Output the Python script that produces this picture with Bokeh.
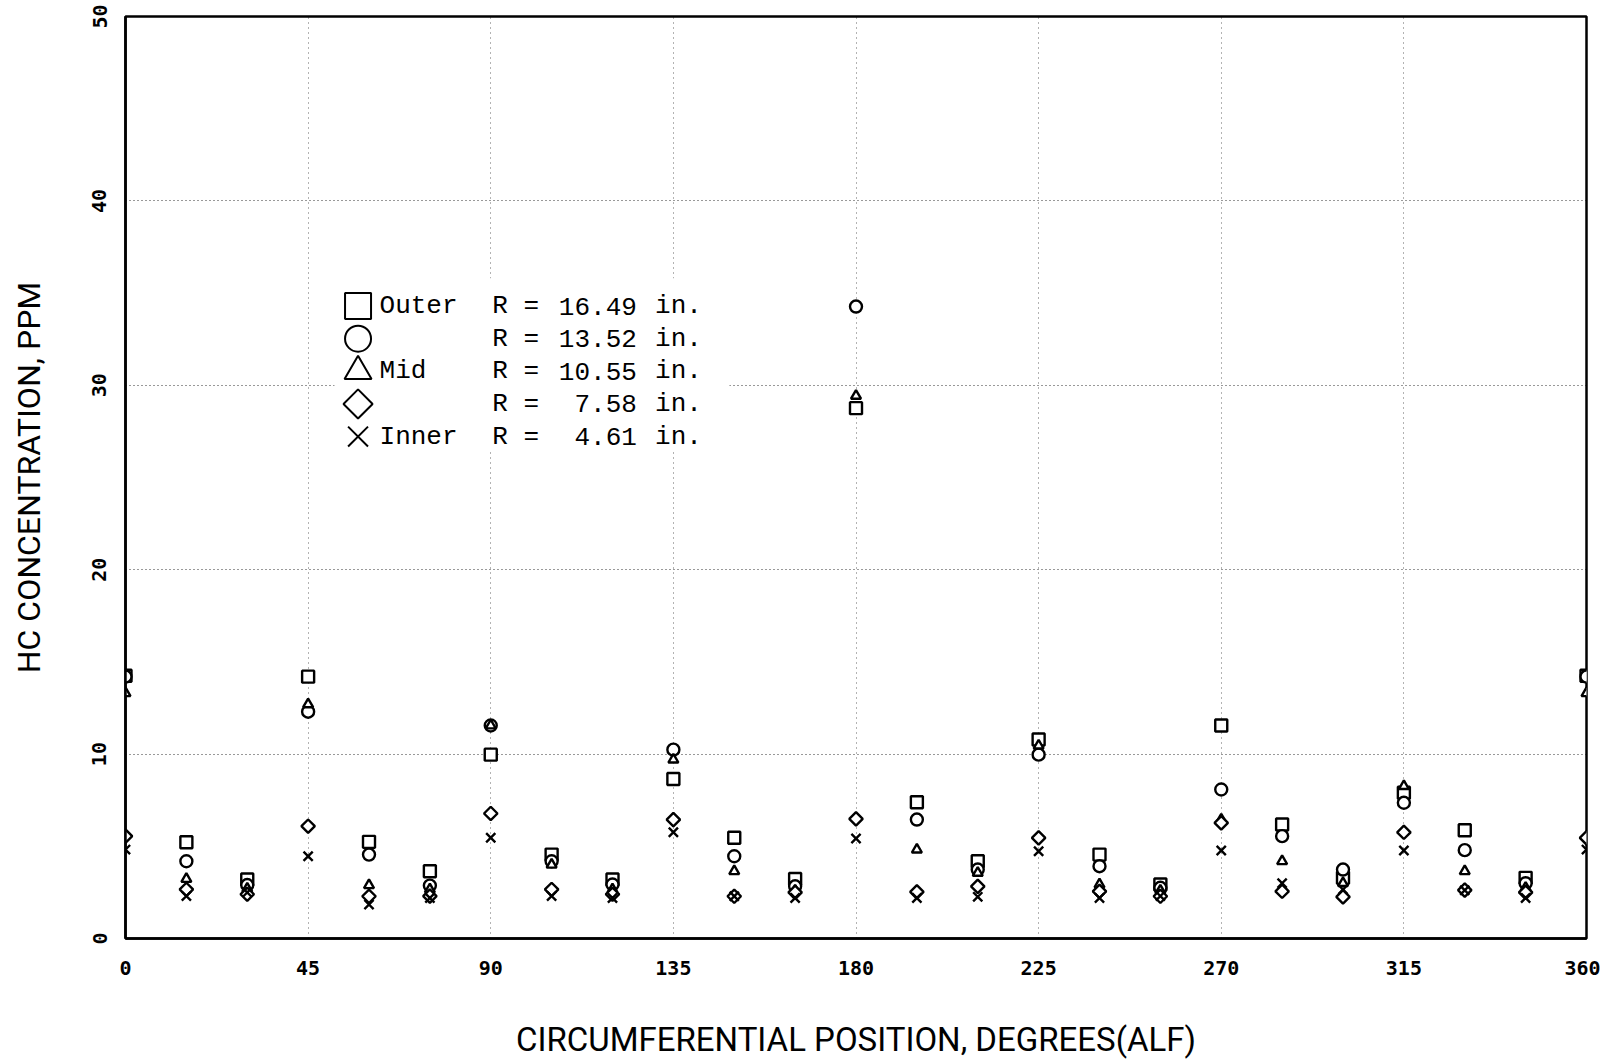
import math
from bokeh.plotting import figure
from bokeh.models import Label, BoxAnnotation, FixedTicker, ColumnDataSource
from bokeh.embed import file_html
from bokeh.resources import INLINE

# ---- data ----
angles = [0, 15, 30, 45, 60, 75, 90, 105, 120, 135, 150, 165, 180,
          195, 210, 225, 240, 255, 270, 285, 300, 315, 330, 345, 360]

outer_1649 = [14.25, 5.22, 3.2, 14.2, 5.24, 3.65, 9.97, 4.55, 3.2, 8.65, 5.46, 3.23, 28.76,
              7.39, 4.19, 10.79, 4.55, 2.93, 11.55, 6.18, 3.29, 7.9, 5.87, 3.29, 14.25]
r_1352 = [14.2, 4.19, 2.9, 12.3, 4.55, 2.87, 11.55, 4.19, 2.93, 10.24, 4.46, 2.83, 34.27,
          6.45, 3.74, 9.97, 3.92, 2.75, 8.08, 5.55, 3.74, 7.36, 4.79, 3.0, 14.2]
mid_1055 = [13.3, 3.23, 2.7, 12.7, 2.89, 2.66, 11.55, 4.0, 2.66, 9.7, 3.65, 2.6, 29.43,
            4.82, 3.56, 10.46, 2.93, 2.6, 6.45, 4.19, 3.0, 8.26, 3.65, 2.75, 13.3]
r_758 = [5.55, 2.66, 2.4, 6.09, 2.29, 2.3, 6.78, 2.66, 2.4, 6.45, 2.29, 2.5, 6.49,
         2.53, 2.83, 5.46, 2.56, 2.29, 6.27, 2.56, 2.26, 5.76, 2.62, 2.5, 5.46]
inner_461 = [4.82, 2.3, 2.5, 4.46, 1.84, 2.2, 5.46, 2.3, 2.2, 5.76, 2.29, 2.2, 5.42,
             2.2, 2.26, 4.73, 2.2, 2.3, 4.77, 3.0, 2.66, 4.77, 2.62, 2.2, 4.82]

series_names = ["Outer", "", "Mid", "", "Inner"]
series_radii = ["16.49", "13.52", "10.55", "7.58", "4.61"]
series_markers = ["square", "circle", "triangle", "diamond", "x"]
series_values = [outer_1649, r_1352, mid_1055, r_758, inner_461]

x_ticks = [0, 45, 90, 135, 180, 225, 270, 315, 360]
y_ticks = [0, 10, 20, 30, 40, 50]

# ---- figure ----
p = figure(width=1600, height=1061, x_range=(0, 360), y_range=(0, 50),
           output_backend="svg", toolbar_location=None,
           min_border_left=125, min_border_right=14, min_border_top=16, min_border_bottom=110)
p.background_fill_color = "white"
p.border_fill_color = "white"
p.outline_line_color = "black"
p.outline_line_width = 2.5

tick_font = "DejaVu Sans Mono"
title_font = "Roboto"

p.xaxis.ticker = FixedTicker(ticks=x_ticks)
p.yaxis.ticker = FixedTicker(ticks=y_ticks)
for ax in (p.xaxis, p.yaxis):
    ax.axis_line_color = "black"
    ax.axis_line_width = 2.5
    ax.major_tick_in = 0
    ax.major_tick_out = 0
    ax.minor_tick_in = 0
    ax.minor_tick_out = 0
    ax.major_label_text_font = tick_font
    ax.major_label_text_font_style = "bold"
    ax.major_label_text_font_size = "20px"
    ax.major_label_text_color = "black"
    ax.axis_label_text_font = title_font
    ax.axis_label_text_font_style = "normal"
    ax.axis_label_text_color = "black"

p.xaxis.axis_label = "CIRCUMFERENTIAL POSITION, DEGREES(ALF)"
p.yaxis.axis_label = "HC CONCENTRATION, PPM"
p.xaxis.axis_label_text_font_size = "33px"
p.yaxis.axis_label_text_font_size = "32px"
p.xaxis.major_label_standoff = 22
p.xaxis.axis_label_standoff = 42
p.yaxis.major_label_orientation = "vertical"
p.yaxis.major_label_standoff = 19
p.yaxis.axis_label_standoff = 42

p.xgrid.grid_line_color = "black"
p.xgrid.grid_line_dash = "1 4"
p.xgrid.grid_line_alpha = 0.6
p.ygrid.grid_line_color = "black"
p.ygrid.grid_line_dash = "1 3"
p.ygrid.grid_line_alpha = 0.8

# plotter-style diamond = square rotated by 45 degrees
marker_glyph = {"square": ("square", 12, 0.0), "circle": ("circle", 12, 0.0),
                "triangle": ("triangle", 10, 0.0), "diamond": ("square", 9.5, math.pi / 4),
                "x": ("x", 13, 0.0)}
for vals, mk in zip(series_values, series_markers):
    g, sz, ang = marker_glyph[mk]
    src = ColumnDataSource(dict(x=angles, y=vals))
    p.scatter("x", "y", source=src, marker=g, size=sz, angle=ang,
              line_color="black", line_width=2.4, fill_color="white" if mk != "x" else None,
              fill_alpha=1.0)

# ---- legend box (manual, as in the plotter original) ----
leg_sym_x = 57.3
leg_name_x = 62.6
leg_r_x = 90.4
leg_num_right = 126.0
leg_in_x = 130.5
leg_top = 34.3
leg_step = 1.77

p.add_layout(BoxAnnotation(left=51.5, right=148.8, bottom=26.4, top=35.8,
                           fill_color="white", fill_alpha=1.0, line_color=None, level="underlay"))

leg_font = "Liberation Mono"
rows_y = [leg_top - i * leg_step for i in range(len(series_names))]
for yy, mk in zip(rows_y, series_markers):
    g, sz, ang = marker_glyph[mk]
    p.scatter([leg_sym_x], [yy], marker=g, size=sz * 26 / 12 if mk != "triangle" else 27,
              angle=ang, line_color="black", line_width=2, fill_color=None)
for yy, nm, rad in zip(rows_y, series_names, series_radii):
    common = dict(y=yy, text_font=leg_font, text_font_size="26px", text_color="black",
                  text_baseline="middle")
    if nm:
        p.add_layout(Label(x=leg_name_x, text=nm, text_align="left", **common))
    p.add_layout(Label(x=leg_r_x, text="R =", text_align="left", **common))
    p.add_layout(Label(x=leg_num_right, text=rad, text_align="right", **common))
    p.add_layout(Label(x=leg_in_x, text="in.", text_align="left", **common))

open("out.html", "w").write(file_html(p, INLINE))
